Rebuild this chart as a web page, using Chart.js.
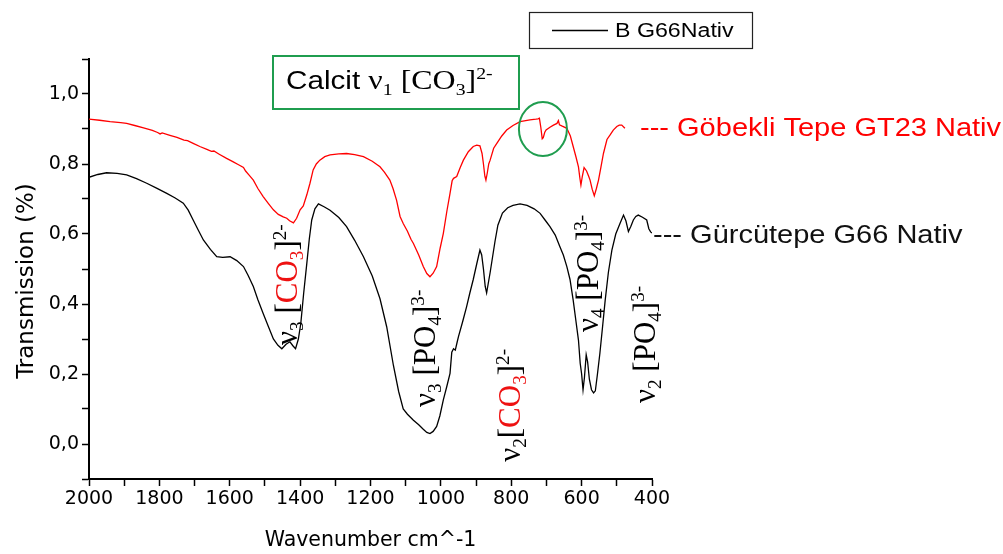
<!DOCTYPE html>
<html><head><meta charset="utf-8">
<script src="https://cdn.jsdelivr.net/npm/chart.js@4.4.0/dist/chart.umd.min.js"></script>
<style>html,body{margin:0;padding:0;background:#fff}#wrap{width:1003px;height:554px;position:relative}</style>
</head><body><div id="wrap"><canvas id="c" width="1003" height="554"></canvas></div>
<script>
// ---- data (wavenumber cm^-1, transmission) ----
const g66Wavenumber = [2000,1975,1950,1920,1893,1865,1836,1808,1779,1755,1732,1718,1704,1690,1675,1655,1637,1620,1599,1580,1561,1548,1533,1520,1505,1490,1476,1463,1452,1440,1429,1420,1413,1405,1398,1390,1381,1374,1367,1358,1348,1332,1315,1290,1268,1245,1220,1195,1173,1154,1135,1120,1107,1095,1078,1063,1050,1040,1031,1022,1012,1003,993,983,974,969,964,959,954,950,938,927,918,908,898,889,884,879,874,870,866,860,853,846,838,825,810,795,775,755,735,718,704,690,675,662,652,642,633,624,616,609,604,600,596,592,587,583,578,572,566,561,555,548,540,533,524,514,503,491,481,474,467,460,453,446,439,427,415,409,404,400];
const g66Transmission = [0.762,0.770,0.775,0.773,0.769,0.758,0.745,0.731,0.716,0.703,0.688,0.668,0.640,0.612,0.583,0.556,0.535,0.533,0.535,0.524,0.507,0.482,0.450,0.412,0.373,0.335,0.300,0.282,0.272,0.285,0.292,0.280,0.272,0.300,0.345,0.430,0.516,0.585,0.640,0.672,0.686,0.678,0.668,0.647,0.621,0.582,0.535,0.480,0.415,0.335,0.225,0.150,0.100,0.085,0.068,0.055,0.042,0.033,0.030,0.036,0.050,0.080,0.126,0.165,0.202,0.262,0.272,0.268,0.290,0.307,0.350,0.392,0.430,0.470,0.515,0.554,0.540,0.500,0.450,0.432,0.455,0.490,0.535,0.580,0.625,0.660,0.675,0.682,0.686,0.682,0.672,0.659,0.640,0.621,0.597,0.564,0.540,0.507,0.470,0.411,0.350,0.297,0.230,0.200,0.155,0.190,0.255,0.235,0.185,0.155,0.146,0.152,0.200,0.260,0.340,0.411,0.490,0.554,0.600,0.630,0.654,0.637,0.607,0.622,0.640,0.650,0.654,0.648,0.640,0.615,0.606,0.603];

const gt23Wavenumber = [2000,1970,1940,1910,1893,1870,1845,1820,1805,1798,1792,1770,1750,1730,1720,1704,1685,1665,1652,1645,1630,1609,1590,1575,1561,1555,1545,1533,1520,1505,1490,1476,1462,1448,1438,1430,1419,1410,1400,1391,1381,1372,1363,1354,1344,1330,1315,1290,1268,1245,1220,1195,1173,1160,1145,1136,1126,1116,1107,1095,1085,1078,1063,1050,1040,1031,1022,1012,1002,993,983,974,968,964,955,945,936,922,908,898,889,883,879,875,872,868,864,860,850,841,827,813,795,775,747,730,724,720,716,712,709,705,701,690,680,670,666,663,655,642,632,624,616,609,605,602,598,593,586,580,576,570,564,558,552,545,538,528,519,510,500,493,486,477];
const gt23Transmission = [0.928,0.925,0.921,0.918,0.916,0.910,0.903,0.896,0.890,0.886,0.889,0.882,0.876,0.868,0.867,0.859,0.850,0.842,0.836,0.837,0.828,0.816,0.806,0.798,0.790,0.780,0.768,0.754,0.730,0.707,0.687,0.669,0.656,0.649,0.645,0.638,0.632,0.645,0.669,0.680,0.712,0.745,0.783,0.800,0.811,0.821,0.826,0.829,0.830,0.827,0.821,0.808,0.792,0.776,0.754,0.730,0.697,0.650,0.630,0.608,0.585,0.573,0.540,0.507,0.487,0.478,0.488,0.507,0.560,0.602,0.665,0.716,0.752,0.759,0.764,0.790,0.811,0.835,0.850,0.854,0.852,0.830,0.800,0.765,0.754,0.775,0.800,0.811,0.845,0.859,0.880,0.897,0.910,0.921,0.926,0.928,0.929,0.931,0.905,0.872,0.875,0.890,0.897,0.905,0.911,0.916,0.924,0.912,0.908,0.902,0.880,0.850,0.820,0.792,0.760,0.740,0.765,0.790,0.780,0.765,0.754,0.728,0.709,0.730,0.754,0.792,0.830,0.870,0.883,0.897,0.907,0.911,0.911,0.902];

const seriesLabels = ['B G66Nativ', 'Göbekli Tepe GT23 Nativ'];
const axisTitles = {x: 'Wavenumber cm^-1', y: 'Transmission (%)'};
const xMajorStep = 200, xMinorStep = 100;
const yMajorStep = 0.2, yMinorStep = 0.1;

// ---- annotations (positions in data units) ----
const RED = '#ee1111';
const rotatedLabels = [
  {w:1409, v:0.283, runs:[['ν'],['3','sub'],[' ['],['CO','n',RED],['3','sub',RED],[']'],['2-','sup']]},
  {w:1017, v:0.106, runs:[['ν'],['3','sub'],[' [PO'],['4','sub'],[']'],['3-','sup']]},
  {w:775,  v:-0.051, runs:[['ν'],['2','sub'],['['],['CO','n',RED],['3','sub',RED],[']'],['2-','sup']]},
  {w:553,  v:0.32, runs:[['ν'],['4','sub'],[' [PO'],['4','sub'],[']'],['3-','sup']]},
  {w:391,  v:0.117, runs:[['ν'],['2','sub'],[' [PO'],['4','sub'],[']'],['3-','sup']]}
];
const sideLabels = [
  {w:434, v:0.880, text:'--- Göbekli Tepe GT23 Nativ', color:'#ff0000'},
  {w:397, v:0.574, text:'--- Gürcütepe G66 Nativ', color:'#111'}
];
const calcitCircle = {w:710, v:0.900};

const xs = (ws, vs) => ws.map((w, i) => ({x: w, y: vs[i]}));

function drawRuns(ctx, runs, size, serif) {
  let x = 0;
  for (const r of runs) {
    const mode = r[1] || 'n';
    const s = mode === 'n' ? size : size * 0.62;
    const dy = mode === 'sub' ? size * 0.2 : mode === 'sup' ? -size * 0.36 : 0;
    ctx.font = s + 'px ' + serif;
    ctx.fillStyle = r[2] || '#000';
    ctx.fillText(r[0], x, dy);
    x += ctx.measureText(r[0]).width;
  }
  return x;
}

const annotate = {
  id: 'annotate',
  afterDraw(chart) {
    const ctx = chart.ctx, X = chart.scales.x, Y = chart.scales.y, A = chart.chartArea;
    const SERIF = '"Liberation Serif", "DejaVu Serif", serif';
    const SANS = '"Liberation Sans", Arial, sans-serif';
    ctx.save();
    ctx.textBaseline = 'alphabetic';
    // axis titles
    ctx.save();
    ctx.font = '20.5px "DejaVu Sans", sans-serif';
    ctx.fillStyle = '#000';
    const tw = ctx.measureText(axisTitles.x).width;
    ctx.fillText(axisTitles.x, (A.left + A.right) / 2 - tw / 2, 546);
    ctx.restore();
    ctx.save();
    ctx.font = '23px "DejaVu Sans", sans-serif';
    ctx.fillStyle = '#000';
    const th = ctx.measureText(axisTitles.y).width;
    ctx.translate(33, (A.top + A.bottom) / 2 + 12 + th / 2);
    ctx.rotate(-Math.PI / 2);
    ctx.fillText(axisTitles.y, 0, 0);
    ctx.restore();
    // rotated band labels
    for (const L of rotatedLabels) {
      ctx.save();
      ctx.translate(X.getPixelForValue(L.w), Y.getPixelForValue(L.v));
      ctx.rotate(-Math.PI / 2);
      drawRuns(ctx, L.runs, 31, SERIF);
      ctx.restore();
    }
    // side labels
    for (const S of sideLabels) {
      ctx.save();
      ctx.translate(X.getPixelForValue(S.w), Y.getPixelForValue(S.v));
      ctx.scale(1.16, 1);
      ctx.font = '25px ' + SANS;
      ctx.fillStyle = S.color;
      ctx.fillText(S.text, 0, 0);
      ctx.restore();
    }
    // green circle
    ctx.strokeStyle = '#1f9d4f';
    ctx.lineWidth = 2;
    ctx.beginPath();
    ctx.ellipse(X.getPixelForValue(calcitCircle.w), Y.getPixelForValue(calcitCircle.v), 24, 27, 0, 0, Math.PI * 2);
    ctx.stroke();
    // Calcit box
    ctx.strokeRect(273, 56, 246, 53);
    ctx.save();
    ctx.translate(286, 89);
    ctx.scale(1.14, 1);
    ctx.font = '26px ' + SANS;
    ctx.fillStyle = '#000';
    ctx.fillText('Calcit ', 0, 0);
    const wCal = ctx.measureText('Calcit ').width;
    ctx.translate(wCal, 0);
    drawRuns(ctx, [['ν'],['1','sub'],[' [CO'],['3','sub'],[']'],['2-','sup']], 28, SERIF);
    ctx.restore();
    // legend box
    ctx.strokeStyle = '#222';
    ctx.lineWidth = 1.2;
    ctx.strokeRect(529.5, 12.5, 223, 36);
    ctx.strokeStyle = '#000';
    ctx.lineWidth = 1.3;
    ctx.beginPath(); ctx.moveTo(552, 30.5); ctx.lineTo(608, 30.5); ctx.stroke();
    ctx.save();
    ctx.translate(615, 37);
    ctx.scale(1.16, 1);
    ctx.font = '20px ' + SANS;
    ctx.fillStyle = '#000';
    ctx.fillText(chart.data.datasets[0].label, 0, 0);
    ctx.restore();
    ctx.restore();
  }
};

const TICKFONT = {family: '"DejaVu Sans", sans-serif', size: 19};
new Chart(document.getElementById('c'), {
  type: 'scatter',
  data: {
    datasets: [
      {label: seriesLabels[0], data: xs(g66Wavenumber, g66Transmission), showLine: true, borderColor: '#000', borderWidth: 1.3, pointRadius: 0, tension: 0},
      {label: seriesLabels[1], data: xs(gt23Wavenumber, gt23Transmission), showLine: true, borderColor: '#ff0000', borderWidth: 1.3, pointRadius: 0, tension: 0}
    ]
  },
  options: {
    responsive: false,
    animation: false,
    devicePixelRatio: 1,
    layout: {padding: {left: 0, top: 59, right: 351, bottom: 0}},
    plugins: {legend: {display: false}, tooltip: {enabled: false}},
    scales: {
      x: {
        type: 'linear', reverse: true, min: 400, max: 2000,
        afterFit: s => { s.height = 75; },
        border: {display: true, color: '#000', width: 2},
        grid: {drawOnChartArea: false, drawTicks: true, tickLength: 7, tickColor: '#000', tickWidth: 1.5},
        ticks: {stepSize: xMinorStep, autoSkip: false, maxRotation: 0, padding: 2, color: '#000', font: TICKFONT,
          callback: v => (Math.round(v) % xMajorStep === 0 ? String(Math.round(v)) : '')},
        title: {display: false}
      },
      y: {
        type: 'linear', min: -0.1, max: 1.1,
        afterFit: s => { s.width = 89; },
        border: {display: true, color: '#000', width: 2},
        grid: {drawOnChartArea: false, drawTicks: true, tickLength: 7, tickColor: '#000', tickWidth: 1.5},
        ticks: {stepSize: yMinorStep, autoSkip: false, padding: 3, color: '#000', font: TICKFONT,
          callback: v => { const t = Math.round(v * 10); const m = Math.round(yMajorStep * 10);
            return (t % m === 0 && t >= 0 && t <= 10) ? (t / 10).toFixed(1).replace('.', ',') : ''; }},
        title: {display: false}
      }
    }
  },
  plugins: [annotate]
});
</script>
</body></html>
